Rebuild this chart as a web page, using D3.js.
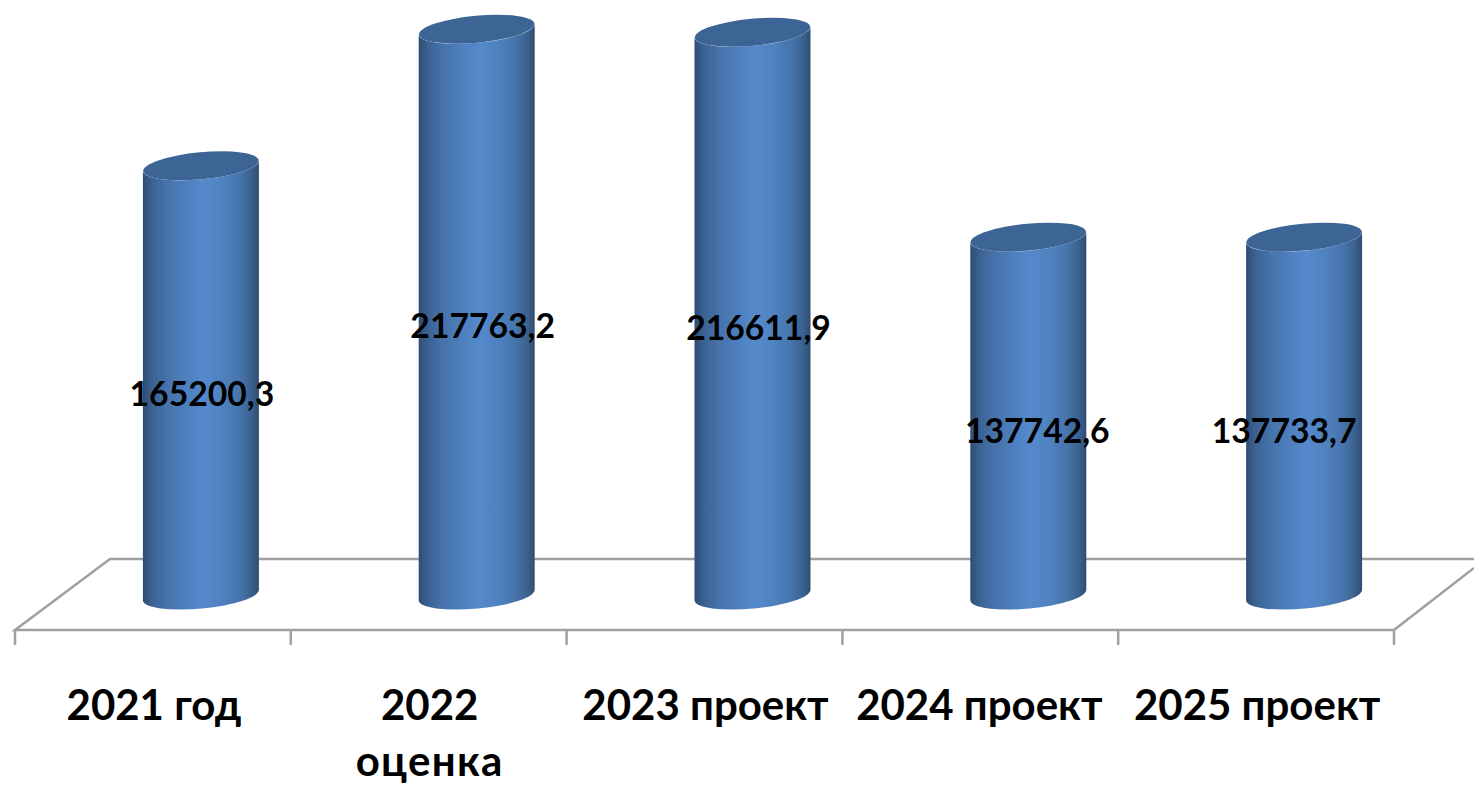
<!DOCTYPE html>
<html><head><meta charset="utf-8">
<style>html,body{margin:0;padding:0;background:#fff;overflow:hidden}svg{display:block}
text{font-family:Lato,"Noto Sans",sans-serif;font-weight:700;fill:#000}</style>
<script src="https://cdnjs.cloudflare.com/ajax/libs/d3/7.8.5/d3.min.js"></script>
</head><body><svg id="c" width="1474" height="785"></svg>
<script>
const categories = [["2021 год"],["2022","оценка"],["2023 проект"],["2024 проект"],["2025 проект"]];
const values = [165200.3,217763.2,216611.9,137742.6,137733.7];
const valueLabels = ["165200,3","217763,2","216611,9","137742,6","137733,7"];

const svg = d3.select("#c");
const x = d3.scaleBand().domain(d3.range(categories.length)).range([15,1394]);
const y = d3.scaleLinear().domain([0,250000]).range([595,-54.5]);
const depthShift = 48;            // oblique floor offset of the bars from the front axis
const rx = 58, ry = 13.5, rot = -5.4;
const dy = rx*Math.sin(-rot*Math.PI/180);

const defs = svg.append("defs");
const g = defs.append("linearGradient").attr("id","cyl");
[[0,"#2f4d74"],[.08,"#3b6292"],[.2,"#4672a9"],[.38,"#4e80bf"],[.52,"#5589cb"],[.68,"#4f82c0"],[.84,"#4674aa"],[.94,"#3a608e"],[1,"#2f4c72"]]
 .forEach(([o,c])=>g.append("stop").attr("offset",o).attr("stop-color",c));

// floor
const floor = svg.append("g").attr("fill","none").attr("stroke","#a0a0a0").attr("stroke-width",2.5);
floor.append("path").attr("d",d3.line()([[1474,559],[110,559],[15,630],[1394,630],[1474,568]]));
const edges = d3.range(categories.length).map(i=>x(i)).concat(x.range()[1]);
floor.selectAll("line.t").data(edges).join("line").attr("class","t")
  .attr("x1",d=>d).attr("x2",d=>d).attr("y1",630).attr("y2",645);

// cylinders
const bars = svg.selectAll("g.bar").data(values).join("g").attr("class","bar")
  .attr("transform",(d,i)=>`translate(${x(i)+x.bandwidth()/2+depthShift},0)`);
bars.append("path").attr("fill","url(#cyl)").attr("d",d=>{
  const t=y(d), b=y(0);
  return `M${-rx},${t+dy}L${-rx},${b+dy}A${rx},${ry} ${rot} 0 0 ${rx},${b-dy}L${rx},${t-dy}A${rx},${ry} ${rot} 0 1 ${-rx},${t+dy}Z`;
});
bars.append("ellipse").attr("rx",rx).attr("ry",ry).attr("fill","#3c6596")
  .attr("transform",d=>`translate(0,${y(d)}) rotate(${rot})`);

// value labels
bars.append("text").attr("text-anchor","middle").attr("font-size",33.7)
  .attr("x",(d,i)=>[1,6,6,9,-20][i]).attr("y",d=>(y(d)+y(0))/2+(d<150000?27:26))
  .text((d,i)=>valueLabels[i]);

// category labels
const lab = svg.selectAll("text.cat").data(categories).join("text").attr("class","cat")
  .attr("text-anchor","middle").attr("font-size",42);
lab.each(function(d,i){
  d3.select(this).selectAll("tspan").data(d).join("tspan")
    .attr("x",x(i)+x.bandwidth()/2+(i==3?-1:1))
    .attr("y",(t,j)=>720+j*56)
    .attr("letter-spacing",(t,j)=>j?1.3:null)
    .text(t=>t);
});
</script></body></html>
